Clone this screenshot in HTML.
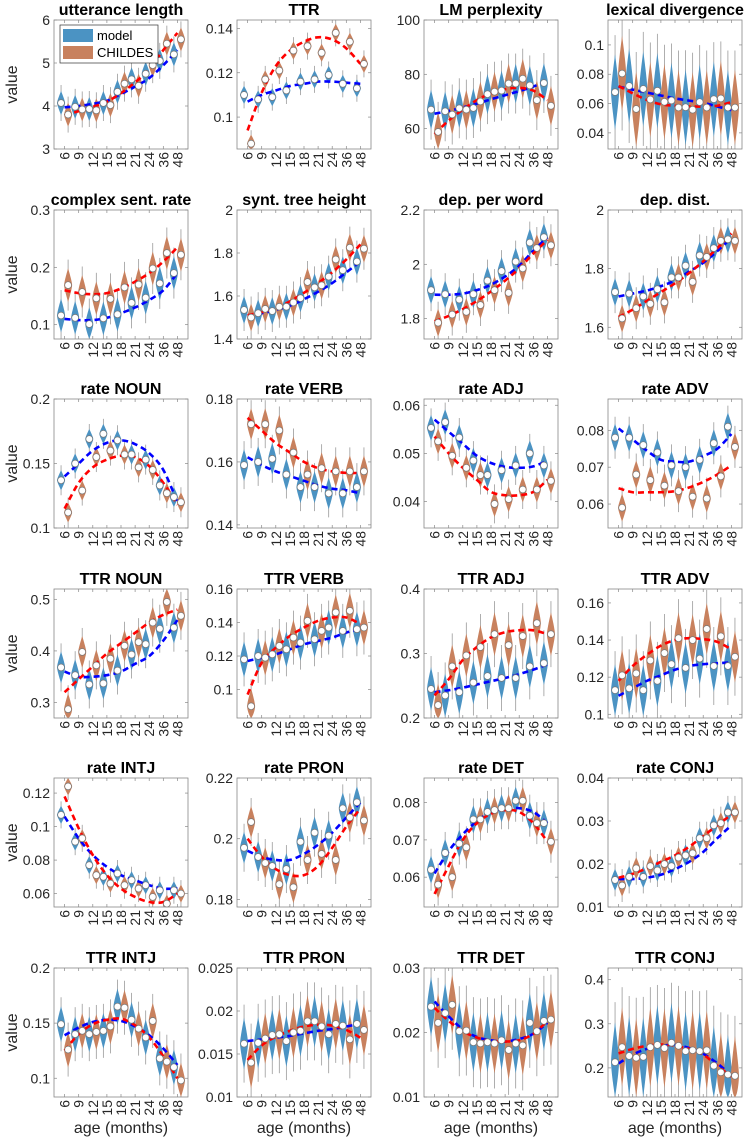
<!DOCTYPE html>
<html><head><meta charset="utf-8">
<style>
html,body{margin:0;padding:0;background:#fff;}
svg{display:block;font-family:"Liberation Sans",Arial,sans-serif;}
</style></head>
<body>
<svg id="fig" width="751" height="1140" viewBox="0 0 751 1140" xmlns="http://www.w3.org/2000/svg"></svg>
<script>
// ---- data ----
const ages = ["6","9","12","15","18","21","24","36","48"];
const titles = ["utterance length","TTR","LM perplexity","lexical divergence",
 "complex sent. rate","synt. tree height","dep. per word","dep. dist.",
 "rate NOUN","rate VERB","rate ADJ","rate ADV",
 "TTR NOUN","TTR VERB","TTR ADJ","TTR ADV",
 "rate INTJ","rate PRON","rate DET","rate CONJ",
 "TTR INTJ","TTR PRON","TTR DET","TTR CONJ"];
const yMin = [3,0.0856,52.5,0.029, 0.075,1.4,1.725,1.56, 0.1,0.139,0.0345,0.0535, 0.27,0.083,0.2,0.098, 0.052,0.1775,0.052,0.01, 0.083,0.01,0.01,0.134];
const yMax = [6,0.1438,100,0.117, 0.3,2,2.2,2, 0.2,0.18,0.0613,0.0885, 0.52,0.16,0.4,0.1675, 0.129,0.22,0.0866,0.04, 0.2,0.025,0.03,0.4265];
const yTicks = [
 ["3","4","5","6"],["0.1","0.12","0.14"],["60","80","100"],["0.04","0.06","0.08","0.1"],
 ["0.1","0.2","0.3"],["1.4","1.6","1.8","2"],["1.8","2","2.2"],["1.6","1.8","2"],
 ["0.1","0.15","0.2"],["0.14","0.16","0.18"],["0.04","0.05","0.06"],["0.06","0.07","0.08"],
 ["0.3","0.4","0.5"],["0.1","0.12","0.14","0.16"],["0.2","0.3","0.4"],["0.1","0.12","0.14","0.16"],
 ["0.06","0.08","0.1","0.12"],["0.18","0.2","0.22"],["0.06","0.07","0.08"],["0.01","0.02","0.03","0.04"],
 ["0.1","0.15","0.2"],["0.01","0.015","0.02","0.025"],["0.01","0.02","0.03"],["0.2","0.3","0.4"]];
const modelMed = [
 [4.07,3.98,3.93,4.07,4.33,4.62,4.75,5.05,5.2],
 [.110,.108,.109,.112,.116,.117,.119,.115,.113],
 [67,66.4,67.5,67.6,72.7,74,76.6,75.9,76.8],
 [.0678,.072,.070,.0687,.0621,.0575,.061,.063,.0573],
 [.116,.112,.101,.111,.118,.138,.147,.172,.19],
 [1.535,1.52,1.53,1.55,1.59,1.64,1.69,1.72,1.76],
 [1.905,1.89,1.87,1.89,1.94,1.975,2.01,2.08,2.1],
 [1.72,1.715,1.705,1.73,1.77,1.81,1.845,1.87,1.9],
 [.137,.15,.169,.173,.168,.157,.153,.133,.124],
 [.159,.160,.161,.156,.152,.152,.150,.150,.152],
 [.0553,.0565,.0533,.0485,.0455,.0465,.0475,.050,.0475],
 [.078,.078,.076,.074,.0705,.070,.072,.0765,.081],
 [.368,.353,.335,.337,.362,.393,.413,.443,.445],
 [.118,.120,.121,.124,.128,.130,.137,.135,.136],
 [.245,.235,.24,.255,.265,.262,.262,.28,.285],
 [.113,.114,.113,.118,.127,.125,.130,.126,.126],
 [.107,.091,.077,.070,.072,.068,.065,.062,.062],
 [.197,.194,.191,.190,.199,.202,.201,.210,.212],
 [.062,.0665,.069,.0755,.0775,.0785,.0805,.0765,.0745],
 [.0163,.0170,.0170,.0185,.0195,.022,.026,.029,.032],
 [.149,.14,.14,.143,.165,.153,.137,.118,.11],
 [.0162,.0163,.0172,.0165,.0177,.0188,.0173,.0183,.0185],
 [.024,.023,.0202,.0185,.0185,.0188,.0183,.0215,.0218],
 [.213,.227,.225,.252,.257,.238,.238,.205,.185]];
const childMed = [
 [3.8,3.92,3.9,4.02,4.52,4.47,4.95,5.45,5.55],
 [.088,.117,.121,.130,.132,.129,.138,.134,.124],
 [58.8,65.2,67,70,73.6,76.6,78.4,70.5,68.4],
 [.0805,.0563,.0628,.0612,.0573,.0558,.0573,.0635,.0573],
 [.169,.157,.146,.145,.165,.170,.198,.225,.222],
 [1.50,1.54,1.55,1.57,1.665,1.65,1.77,1.825,1.82],
 [1.785,1.815,1.825,1.85,1.905,1.895,1.985,2.06,2.07],
 [1.63,1.665,1.68,1.685,1.77,1.755,1.84,1.895,1.895],
 [.112,.129,.155,.16,.157,.147,.145,.127,.12],
 [.172,.172,.170,.163,.156,.158,.157,.157,.157],
 [.0525,.0495,.047,.0455,.0395,.0405,.0425,.0425,.0443],
 [.059,.068,.0665,.065,.0635,.062,.0615,.0675,.0755],
 [.287,.398,.372,.385,.41,.417,.455,.495,.468],
 [.090,.119,.126,.131,.141,.135,.146,.147,.137],
 [.22,.28,.297,.31,.33,.313,.327,.347,.33],
 [.121,.122,.129,.133,.141,.140,.146,.142,.131],
 [.124,.093,.071,.066,.065,.063,.058,.054,.060],
 [.2055,.192,.185,.184,.193,.195,.193,.207,.206],
 [.058,.060,.068,.0755,.078,.0785,.0805,.0745,.0695],
 [.015,.019,.0195,.020,.0215,.0225,.026,.0295,.032],
 [.126,.143,.142,.147,.164,.145,.152,.115,.098],
 [.014,.0168,.0173,.0175,.0188,.0182,.0185,.0167,.0178],
 [.0215,.0243,.0203,.0183,.0183,.0173,.018,.0202,.022],
 [.247,.223,.247,.245,.25,.24,.24,.19,.182]];
const modelFit = [
 [3.97,4.0,4.05,4.12,4.28,4.45,4.65,4.95,5.3],
 [.107,.110,.112,.114,.115,.116,.116,.1155,.115],
 [65.5,66.5,67.8,69.2,70.8,72.3,73.8,75.5,77.5],
 [.0715,.0695,.0675,.0655,.0635,.062,.0605,.058,.0555],
 [.11,.108,.108,.112,.12,.13,.143,.16,.19],
 [1.51,1.52,1.535,1.555,1.585,1.62,1.66,1.71,1.76],
 [1.888,1.888,1.892,1.905,1.925,1.955,1.995,2.05,2.1],
 [1.705,1.715,1.725,1.74,1.76,1.79,1.82,1.86,1.905],
 [.14,.15,.16,.166,.168,.165,.158,.145,.12],
 [.1615,.159,.157,.1555,.154,.1525,.1515,.151,.150],
 [.057,.0545,.052,.0495,.048,.0472,.047,.0473,.0485],
 [.0805,.0775,.0745,.072,.0715,.0715,.073,.075,.079],
 [.36,.35,.35,.353,.36,.375,.39,.42,.46],
 [.117,.119,.121,.124,.127,.129,.131,.134,.136],
 [.24,.243,.247,.252,.257,.262,.268,.275,.283],
 [.11,.114,.118,.121,.124,.126,.127,.1275,.128],
 [.106,.093,.083,.076,.071,.068,.065,.063,.063],
 [.196,.194,.193,.193,.195,.198,.202,.207,.212],
 [.061,.067,.0715,.075,.0775,.0785,.0785,.0775,.0745],
 [.0165,.0165,.0168,.0175,.0188,.0205,.0228,.026,.029],
 [.139,.146,.151,.153,.152,.147,.139,.127,.112],
 [.0165,.0167,.0169,.0171,.0174,.0177,.0179,.0182,.0185],
 [.0248,.0225,.0205,.0193,.0188,.0186,.019,.0198,.0215],
 [.21,.23,.243,.25,.252,.245,.232,.21,.183]];
const childFit = [
 [3.78,3.88,3.98,4.1,4.3,4.55,4.85,5.3,5.7],
 [.094,.111,.123,.130,.134,.136,.135,.131,.124],
 [58,63,67,70.5,73,74.5,75,74,70.5],
 [.072,.067,.0625,.0595,.0585,.058,.058,.0585,.061],
 [.16,.155,.153,.155,.163,.175,.19,.21,.235],
 [1.51,1.525,1.545,1.575,1.615,1.66,1.71,1.77,1.84],
 [1.79,1.81,1.835,1.865,1.9,1.94,1.985,2.04,2.09],
 [1.635,1.66,1.69,1.72,1.75,1.785,1.825,1.87,1.92],
 [.115,.135,.147,.153,.156,.155,.148,.135,.118],
 [.174,.170,.166,.163,.160,.158,.157,.1565,.1565],
 [.0535,.05,.047,.0445,.042,.0413,.0413,.042,.0445],
 [.0643,.0632,.0632,.0632,.0635,.0645,.066,.068,.0705],
 [.32,.345,.37,.395,.415,.435,.455,.47,.48],
 [.097,.116,.125,.132,.137,.141,.143,.143,.139],
 [.235,.26,.29,.31,.325,.333,.336,.336,.33],
 [.118,.126,.132,.137,.140,.141,.1405,.139,.135],
 [.118,.099,.083,.071,.063,.058,.055,.055,.06],
 [.200,.194,.190,.188,.188,.191,.197,.204,.210],
 [.0555,.063,.07,.0745,.077,.078,.0775,.0745,.0695],
 [.0168,.0177,.019,.0205,.022,.024,.0265,.029,.0315],
 [.125,.14,.149,.153,.154,.148,.137,.12,.1],
 [.0143,.016,.017,.0177,.0182,.0184,.0183,.0178,.0169],
 [.0238,.0218,.0202,.0192,.0187,.0186,.0188,.0198,.0218],
 [.233,.243,.25,.253,.25,.243,.23,.205,.18]];

// ---- layout / style (not data) ----
const colLeft = [54,237,424,608], axW = 134, axH = 129;
const rowTop = [20,210,399,589,778,968];
const violinHalfPx = [12,9,20,38, 17,14,14,14, 10,16,13,14, 16,18,22,26, 9,16,14,11, 18,26,30,40];
const NS = "http://www.w3.org/2000/svg";
const svg = document.getElementById('fig');
function mk(tag, attrs, parent){const e=document.createElementNS(NS,tag);for(const k in attrs)e.setAttribute(k,attrs[k]);(parent||svg).appendChild(e);return e;}
function smooth(pts){let d="M"+pts[0][0]+","+pts[0][1];for(let i=0;i<pts.length-1;i++){const p0=pts[Math.max(0,i-1)],p1=pts[i],p2=pts[i+1],p3=pts[Math.min(pts.length-1,i+2)];
 const c1=[p1[0]+(p2[0]-p0[0])/6,p1[1]+(p2[1]-p0[1])/6],c2=[p2[0]-(p3[0]-p1[0])/6,p2[1]-(p3[1]-p1[1])/6];
 d+=" C"+c1[0]+","+c1[1]+" "+c2[0]+","+c2[1]+" "+p2[0]+","+p2[1];}return d;}

for(let p=0;p<24;p++){
 const r=Math.floor(p/4), c=p%4, L=colLeft[c], T=rowTop[r];
 const xs = v => L + axW*v/19;
 const ys = v => T + axH*(yMax[p]-v)/(yMax[p]-yMin[p]);
 const g = mk('g',{});
 
 
 mk('rect',{x:L,y:T,width:axW,height:axH,fill:'#fff'},g);
 const t = mk('text',{x:L+axW/2,y:T-5,'text-anchor':'middle','font-size':16,'font-weight':'bold',fill:'#000'},g);
 t.textContent = titles[p];
 
 
 yTicks[p].forEach(lbl=>{
  const y=ys(parseFloat(lbl));
  mk('line',{x1:L,x2:L+3,y1:y,y2:y,stroke:'#888','stroke-width':0.7},g);
  mk('line',{x1:L+axW-3,x2:L+axW,y1:y,y2:y,stroke:'#888','stroke-width':0.7},g);
  const tl=mk('text',{x:L-4,y:y+5,'text-anchor':'end','font-size':14,fill:'#262626'},g);
  tl.textContent=lbl;
  
  
 });
 ages.forEach((a,i)=>{
  const x=xs(2*i+1.5);
  mk('line',{x1:x,x2:x,y1:T+axH,y2:T+axH-3,stroke:'#888','stroke-width':0.7},g);
  mk('line',{x1:x,x2:x,y1:T,y2:T+3,stroke:'#888','stroke-width':0.7},g);
  const tl=mk('text',{x:0,y:0,'text-anchor':'end','font-size':14,fill:'#262626',transform:`translate(${x+5},${T+axH+3}) rotate(-90)`},g);
  tl.textContent=a;
  
  
 });
 const h=violinHalfPx[p], w=4;
 [[modelMed[p],'#4b93c3',0],[childMed[p],'#c8815e',1]].forEach(([arr,col,off])=>{
  arr.forEach((v,i)=>{
   const x=xs(2*i+1+off), y=ys(v);
   const tail=mk('line',{x1:x,x2:x,y1:Math.max(T,y-h*1.5),y2:Math.min(T+axH,y+h*1.5),stroke:'#9a9a9a','stroke-width':0.8},g);
   
   
   const top=Math.max(T,y-h), bot=Math.min(T+axH,y+h);
   const vp=mk('path',{d:`M${x},${top} C${x+w*0.6},${y-h*0.5} ${x+w},${y-h*0.15} ${x+w},${y} C${x+w},${y+h*0.15} ${x+w*0.6},${y+h*0.5} ${x},${bot} C${x-w*0.6},${y+h*0.5} ${x-w},${y+h*0.15} ${x-w},${y} C${x-w},${y-h*0.15} ${x-w*0.6},${y-h*0.5} ${x},${top}Z`,fill:col},g);
   
   
  });
 });
 [[modelFit[p],'#0000ff'],[childFit[p],'#ff0000']].forEach(([arr,col])=>{
  const pts=arr.map((v,i)=>[xs(2*i+1.5),ys(v)]);
  const fl=mk('path',{d:smooth(pts),fill:'none',stroke:col,'stroke-width':2.6,'stroke-dasharray':'6,4'},g);
  
  
 });
 [[modelMed[p],0],[childMed[p],1]].forEach(([arr,off])=>{
  arr.forEach((v,i)=>{
   const m=mk('circle',{cx:xs(2*i+1+off),cy:ys(v),r:3.4,fill:'#fff',stroke:'#777','stroke-width':0.7},g);
   
   
  });
 });
 mk('rect',{x:L,y:T,width:axW,height:axH,fill:'none',stroke:'#888','stroke-width':0.8},g);
 if(c===0){
  const yl=mk('text',{x:0,y:0,'text-anchor':'middle','font-size':16,fill:'#262626',transform:`translate(17,${T+axH/2}) rotate(-90)`});
  yl.textContent='value';
  
  
 }
 if(r===5){
  const xl=mk('text',{x:L+axW/2,y:1133,'text-anchor':'middle','font-size':16,fill:'#262626'});
  xl.textContent='age (months)';
  
  
 }
}
const lg=mk('g',{});


mk('rect',{x:60,y:25,width:98,height:38,fill:'#fff',stroke:'#333','stroke-width':0.7},lg);
mk('rect',{x:63,y:29,width:30,height:13,fill:'#4b93c3'},lg);
mk('rect',{x:63,y:46,width:30,height:13,fill:'#c8815e'},lg);
const l1=mk('text',{x:97,y:40,'font-size':13,fill:'#000'},lg);l1.textContent='model';


const l2=mk('text',{x:97,y:57,'font-size':13,fill:'#000'},lg);l2.textContent='CHILDES';


</script>
</body></html>
